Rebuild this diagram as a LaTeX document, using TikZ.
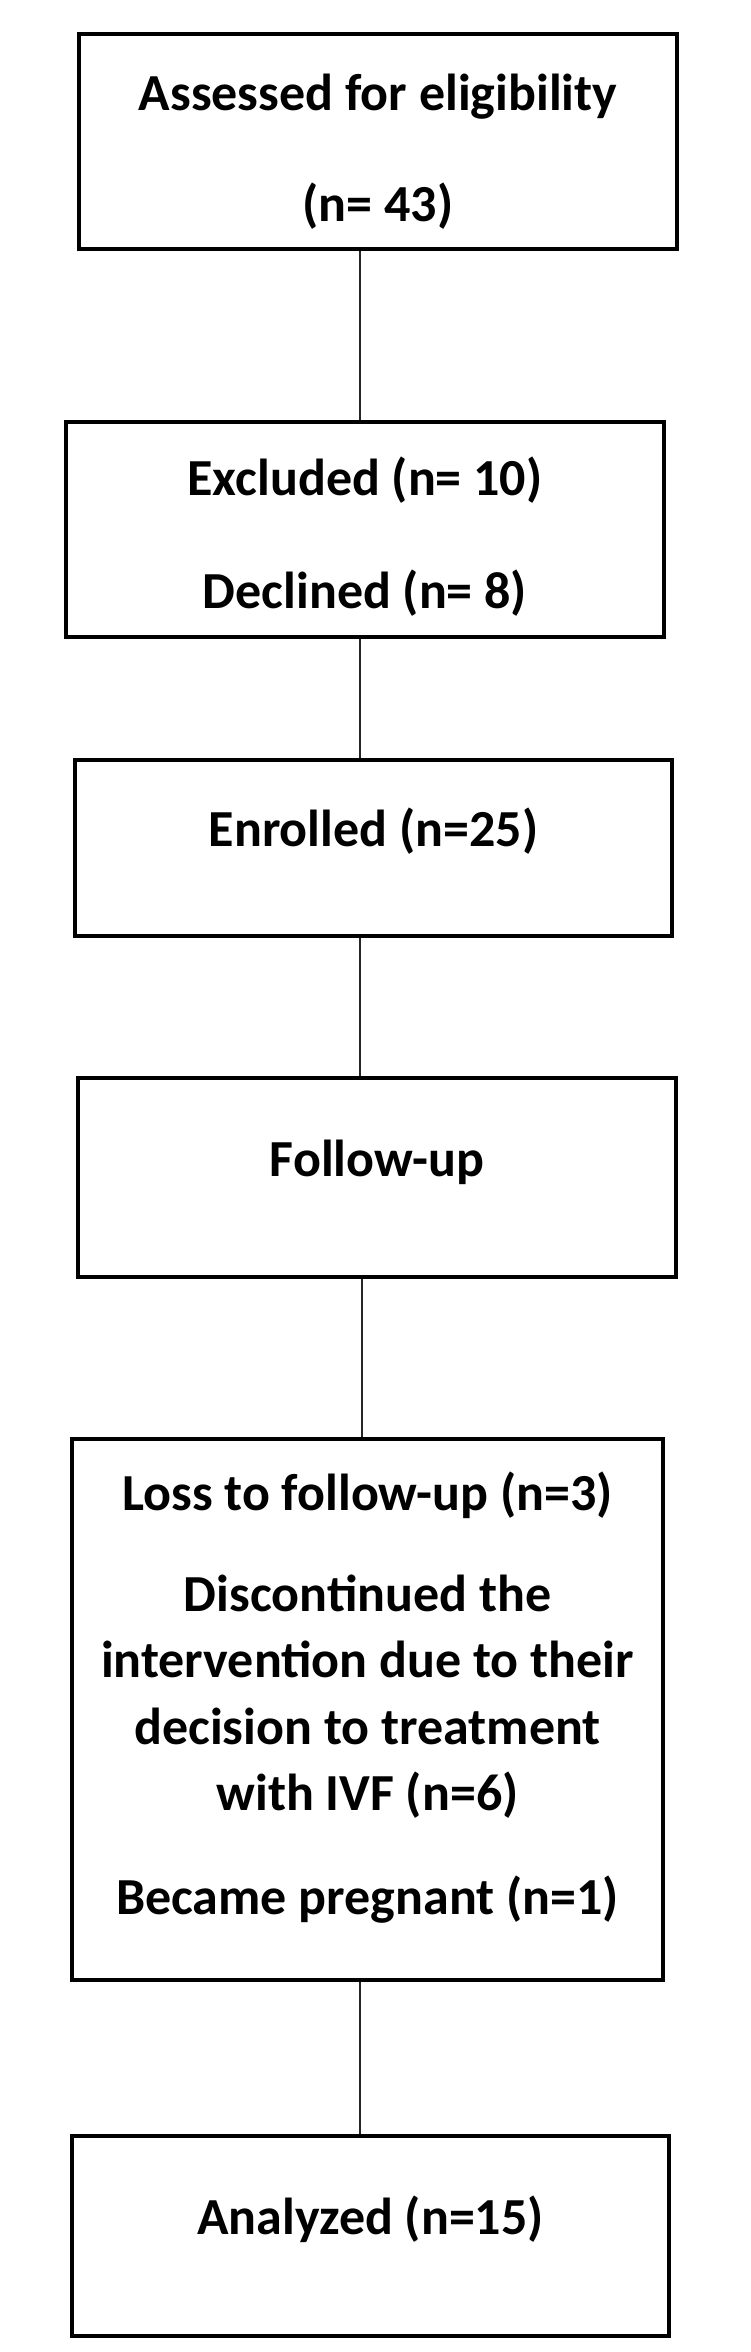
\documentclass[tikz,border=0pt]{standalone}
\usepackage{fontspec}
\setmainfont{Carlito}
\begin{document}
\begin{tikzpicture}[x=1pt,y=1pt,
  box/.style={draw=black,line width=4pt,inner sep=0pt,minimum width=#1},
  lbl/.style={anchor=base,inner sep=0pt,font=\fontsize{52}{64}\selectfont\bfseries},
  conn/.style={draw=black!85,line width=2.2pt}]
\useasboundingbox[fill=white] (0,0) rectangle (750,-2352);
\node[box=598pt,minimum height=215pt] (b1) at (378,-141.5) {};
\node[box=598pt,minimum height=215pt] (b2) at (365,-529.5) {};
\node[box=597pt,minimum height=176pt] (b3) at (373.5,-848) {};
\node[box=598pt,minimum height=199pt] (b4) at (377,-1177.5) {};
\node[box=591pt,minimum height=541pt] (b5) at (367.5,-1709.5) {};
\node[box=597pt,minimum height=200pt] (b6) at (370.5,-2236) {};
\node[lbl] (t1a) at (378,-111) {Assessed for eligibility};
\node[lbl] (t1b) at (378,-222) {(n= 43)};
\node[lbl] (t2a) at (365,-495) {Excluded (n= 10)};
\node[lbl] (t2b) at (365,-608) {Declined (n= 8)};
\node[lbl] (t3) at (373.5,-846) {Enrolled (n=25)};
\node[lbl] (t4) at (377,-1176) {Follow-up};
\node[lbl] (t5a) at (367.5,-1510) {Loss to follow-up (n=3)};
\node[lbl] (t5b) at (367.5,-1611) {Discontinued the};
\node[lbl] (t5c) at (367.5,-1677) {intervention due to their};
\node[lbl] (t5d) at (367.5,-1744) {decision to treatment};
\node[lbl] (t5e) at (367.5,-1810) {with IVF (n=6)};
\node[lbl] (t5f) at (367.5,-1914) {Became pregnant (n=1)};
\node[lbl] (t6) at (370.5,-2234) {Analyzed (n=15)};
\coordinate (cx) at (360,0);
\coordinate (cx2) at (362,0);
\draw[conn] (b1.south -| cx) -- (b2.north -| cx);
\draw[conn] (b2.south -| cx) -- (b3.north -| cx);
\draw[conn] (b3.south -| cx) -- (b4.north -| cx);
\draw[conn] (b4.south -| cx2) -- (b5.north -| cx2);
\draw[conn] (b5.south -| cx) -- (b6.north -| cx);
\end{tikzpicture}
\end{document}
